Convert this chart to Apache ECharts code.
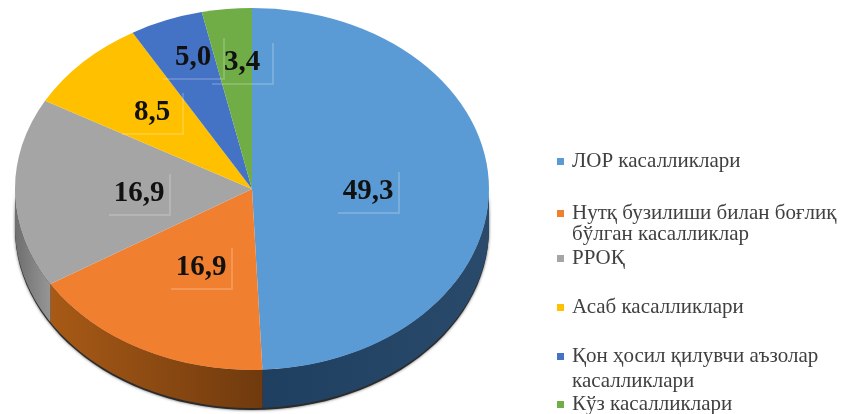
<!DOCTYPE html>
<html>
<head>
<meta charset="utf-8">
<style>
  html, body { margin: 0; padding: 0; background: #fff; }
  #chart { width: 843px; height: 414px; }
</style>
</head>
<body>
<div id="chart"></div>
<script src="https://cdn.jsdelivr.net/npm/echarts@6/dist/echarts.min.js"></script>
<script>
const categories = [
  'ЛОР касалликлари',
  'Нутқ бузилиши билан боғлиқ\nбўлган касалликлар',
  'РРОҚ',
  'Асаб касалликлари',
  'Қон ҳосил қилувчи аъзолар\nкасалликлари',
  'Кўз касалликлари'
];
const values = [49.3, 16.9, 16.9, 8.5, 5.0, 3.4];

const topColors = ['#5b9bd5', '#f08030', '#a5a5a5', '#ffc000', '#4472c4', '#70ad47'];
const sideColors = [
  ['#1f3f60', '#2a4a6c'],
  ['#a85a16', '#703a0e'],
  ['#6e6e6e', '#969696'],
  ['#997300', '#997300'],
  ['#264478', '#264478'],
  ['#43682b', '#43682b']
];
// label centres and legend rows
const labelPos = [[368, 192], [201, 268], [139, 194], [152, 113], [193, 58], [242, 63]];
const legendTops = [160, 212, 257, 306, 355, 403];
const secondLineTops = [224, 371];

const cx = 252, cy = 189, rx = 237, ry = 181, depth = 38;
const serif = '"Liberation Serif", "DejaVu Serif", serif';
const legendFontSize = 21;

const total = values.reduce((a, b) => a + b, 0);
const starts = values.map((_, i) => values.slice(0, i).reduce((a, b) => a + b, 0) / total * Math.PI * 2);
const ends = values.map((v, i) => starts[i] + v / total * Math.PI * 2);

// angle is measured clockwise from 12 o'clock
function rimPoint(angle, dy) {
  return [cx + rx * Math.sin(angle), cy + dy - ry * Math.cos(angle)];
}

function wallPoints(from, to, dy) {
  const upper = [], lower = [];
  const steps = 60;
  for (let s = 0; s <= steps; s++) {
    const a = from + (to - from) * s / steps;
    upper.push(rimPoint(a, 0));
    lower.unshift(rimPoint(a, dy));
  }
  return upper.concat(lower);
}

// dark edge under the whole wall
function renderEdge() {
  return {
    type: 'polygon',
    shape: { points: wallPoints(Math.PI / 2, Math.PI * 1.5, depth + 2) },
    style: { fill: '#2b2b2b', shadowBlur: 3, shadowColor: '#555' }
  };
}

function renderSide(params) {
  const i = params.dataIndex;
  const from = Math.max(starts[i], Math.PI / 2);
  const to = Math.min(ends[i], Math.PI * 1.5);
  if (to <= from) return null;
  return {
    type: 'polygon',
    shape: { points: wallPoints(from, to, depth) },
    style: {
      fill: new echarts.graphic.LinearGradient(0, 0, 1, 0, [
        { offset: 0, color: sideColors[i][0] },
        { offset: 1, color: sideColors[i][1] }
      ])
    }
  };
}

function renderSlice(i) {
  return function () {
    return {
      type: 'sector',
      x: cx,
      y: cy,
      scaleY: ry / rx,
      shape: {
        cx: 0,
        cy: 0,
        r: rx,
        startAngle: starts[i] - Math.PI / 2,
        endAngle: ends[i] - Math.PI / 2,
        clockwise: true
      },
      style: { fill: topColors[i] }
    };
  };
}

function renderLabel(params, api) {
  const [x, y] = labelPos[params.dataIndex];
  const edge = 'rgba(255,255,255,0.18)';
  return {
    type: 'group',
    children: [
      { type: 'rect', shape: { x: x - 30, y: y + 20, width: 60, height: 2 }, style: { fill: edge } },
      { type: 'rect', shape: { x: x + 30, y: y - 20, width: 2, height: 42 }, style: { fill: edge } },
      {
        type: 'text',
        x: x,
        y: y,
        style: {
          text: api.value(0).toFixed(1).replace('.', ','),
          fill: '#111',
          font: 'bold 29px ' + serif,
          align: 'center',
          verticalAlign: 'middle'
        }
      }
    ]
  };
}

const secondLines = categories
  .filter(name => name.includes('\n'))
  .map((name, i) => ({
    type: 'text',
    left: 572,
    top: secondLineTops[i],
    style: {
      text: name.split('\n')[1],
      fill: '#404040',
      font: legendFontSize + 'px ' + serif
    }
  }));

const chart = echarts.init(document.getElementById('chart'), null, { renderer: 'canvas' });

chart.setOption({
  animation: false,
  backgroundColor: '#fff',
  legend: categories.map((name, i) => ({
    data: [name],
    left: 557,
    top: legendTops[i] - 9,
    padding: [0, 0, 0, 0],
    itemWidth: 7,
    itemHeight: 7,
    itemGap: 0,
    icon: 'rect',
    selectedMode: false,
    formatter: n => n.split('\n')[0],
    textStyle: { fontFamily: serif, fontSize: legendFontSize, color: '#404040', padding: [0, 0, 0, 3] }
  })),
  graphic: secondLines,
  series: [
    {
      type: 'custom',
      name: 'edge',
      coordinateSystem: 'none',
      silent: true,
      renderItem: renderEdge,
      data: [0]
    },
    {
      type: 'custom',
      name: 'side',
      coordinateSystem: 'none',
      silent: true,
      renderItem: renderSide,
      data: values
    },
    ...categories.map((name, i) => ({
      type: 'custom',
      name: name,
      coordinateSystem: 'none',
      silent: true,
      itemStyle: { color: topColors[i] },
      renderItem: renderSlice(i),
      data: [values[i]]
    })),
    {
      type: 'custom',
      name: 'labels',
      coordinateSystem: 'none',
      silent: true,
      renderItem: renderLabel,
      data: values
    }
  ]
});
</script>
</body>
</html>
